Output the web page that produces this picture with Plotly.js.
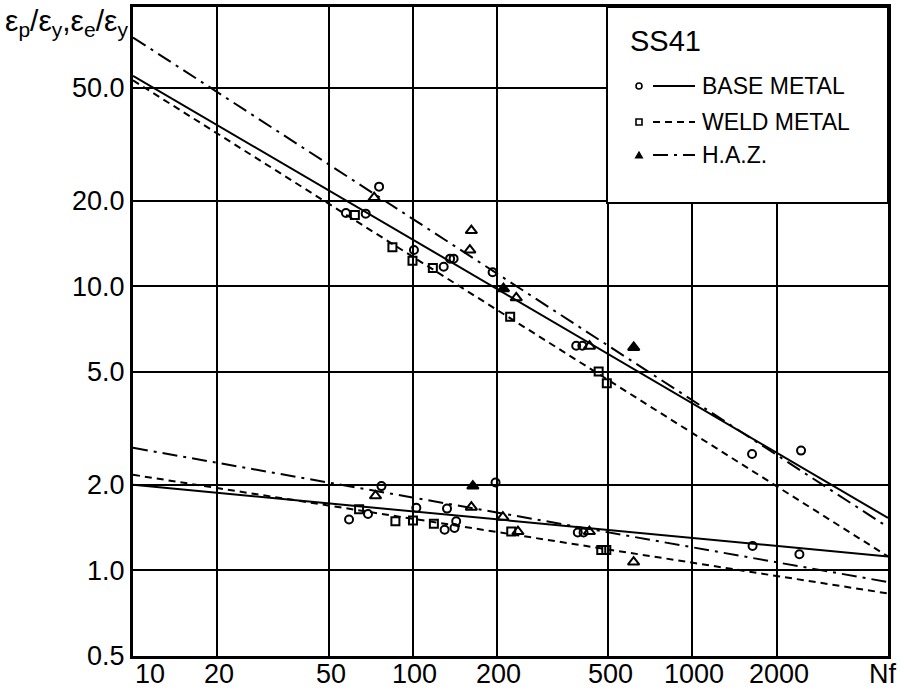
<!DOCTYPE html>
<html><head><meta charset="utf-8">
<script src="https://cdn.plot.ly/plotly-3.0.1.min.js"></script>
<style>html,body{margin:0;padding:0;background:#fff}#chart{width:901px;height:699px}</style>
</head><body><div id="chart"></div>
<script>
// ---- Data (Nf vs strain ratio) ----
// Fitted lines (values at Nf = 10 and Nf = 5000)
const fitN = [10, 5000];
const baseUpperFit = [55, 1.53];
const weldUpperFit = [53, 1.12];
const hazUpperFit  = [75, 1.42];
const baseLowerFit = [2.0, 1.12];
const weldLowerFit = [2.17, 0.83];
const hazLowerFit  = [2.7, 0.91];

// BASE METAL (circles): plastic and elastic
const baseNp = [57.7, 67.9, 75.8, 101, 129, 136, 140, 193, 384, 404, 1633, 2444];
const baseP  = [18.1, 18.0, 22.4, 13.4, 11.7, 12.5, 12.5, 11.2, 6.17, 6.17, 2.57, 2.64];
const baseNe = [59.2, 69.2, 77.3, 103, 130, 132.6, 141, 143, 197.7, 389, 408, 1640, 2411];
const baseE  = [1.51, 1.58, 1.98, 1.66, 1.39, 1.65, 1.41, 1.49, 2.04, 1.36, 1.36, 1.22, 1.14];

// WELD METAL (squares)
const weldNp = [62.1, 84.6, 99.8, 118, 223, 462, 494];
const weldP  = [17.8, 13.7, 12.3, 11.6, 7.8, 5.01, 4.56];
const weldNe = [64.3, 86.7, 100.2, 119, 225, 472, 492];
const weldE  = [1.64, 1.49, 1.50, 1.46, 1.37, 1.18, 1.18];

// H.A.Z. (open triangles)
const hazNp = [72.8, 162, 160, 234.5, 428.5];
const hazP  = [20.5, 15.7, 13.4, 9.1, 6.15];
const hazNe = [73.6, 162, 210, 237.7, 428, 616];
const hazE  = [1.83, 1.67, 1.54, 1.37, 1.37, 1.07];
// H.A.Z. (filled triangles)
const hazFilledN = [211, 616.5, 164];
const hazFilledV = [9.8, 6.09, 1.98];

// Axis ticks
const xTickVals = [10, 20, 50, 100, 200, 500, 1000, 2000];
const xTickText = ['10', '20', '50', '100', '200', '500', '1000', '2000'];
const yTickVals = [0.5, 1, 2, 5, 10, 20, 50];
const yTickText = ['0.5', '1.0', '2.0', '5.0', '10.0', '20.0', '50.0'];
const xAxisLabel = 'Nf';

// Legend texts
const legendTitle = 'SS41';
const legendNames = ['BASE METAL', 'WELD METAL', 'H.A.Z.'];

// ---- Styles ----
const K = '#000';
const solid = {color: K, width: 2};
const dashed = {color: K, width: 2, dash: '7px,5px'};
const dashdot = {color: K, width: 2, dash: '15px,6px,3px,6px'};
const FONT = '"Liberation Sans", Arial, sans-serif';

function line(y, st) { return {x: fitN, y: y, mode: 'lines', line: st, hoverinfo: 'skip', showlegend: false}; }
function pts(x, y, sym, size) {
  return {x: x, y: y, mode: 'markers', showlegend: false,
    marker: {symbol: sym, size: size, color: K, line: {color: K, width: 2}}};
}

const traces = [
  line(baseUpperFit, solid), line(weldUpperFit, dashed), line(hazUpperFit, dashdot),
  line(baseLowerFit, solid), line(weldLowerFit, dashed), line(hazLowerFit, dashdot),
  pts(baseNp, baseP, 'circle-open', 8), pts(baseNe, baseE, 'circle-open', 8),
  pts(weldNp, weldP, 'square-open', 8), pts(weldNe, weldE, 'square-open', 8),
  pts(hazNp, hazP, 'triangle-up-open', 10), pts(hazNe, hazE, 'triangle-up-open', 10),
  pts(hazFilledN, hazFilledV, 'triangle-up', 10)
];

// plot area geometry (pixels) used for legend placement
const L = 133, R = 888, T = 7, B = 656;
const px = v => (v - L) / (R - L);
const py = v => (B - v) / (B - T);

const shapes = [
  {type: 'rect', xref: 'paper', yref: 'paper', x0: px(607), x1: 1, y0: py(203), y1: 1,
   fillcolor: '#fff', line: {color: K, width: 2}, layer: 'above'}
];
const rows = [86, 122, 155];
const styles = [solid, dashed, dashdot];
rows.forEach((r, i) => {
  shapes.push({type: 'line', xref: 'paper', yref: 'paper', x0: px(653), x1: px(695), y0: py(r), y1: py(r),
    line: styles[i], layer: 'above'});
});
shapes.push({type: 'circle', xref: 'paper', yref: 'paper', x0: px(636), x1: px(642), y0: py(89), y1: py(83),
  line: {color: K, width: 1.6}, fillcolor: '#fff', layer: 'above'});
shapes.push({type: 'rect', xref: 'paper', yref: 'paper', x0: px(636), x1: px(642), y0: py(125), y1: py(119),
  line: {color: K, width: 1.6}, fillcolor: '#fff', layer: 'above'});
shapes.push({type: 'path', xref: 'paper', yref: 'paper',
  path: `M ${px(635.5)} ${py(158)} L ${px(642.5)} ${py(158)} L ${px(639)} ${py(152)} Z`,
  line: {color: K, width: 1.2}, fillcolor: K, layer: 'above'});

const annotations = [
  {xref: 'paper', yref: 'paper', x: px(628), y: py(41), xanchor: 'left', yanchor: 'middle',
   text: legendTitle, showarrow: false, font: {family: FONT, size: 29, color: K}},
  {xref: 'paper', yref: 'paper', x: px(3), y: py(2), xanchor: 'left', yanchor: 'top',
   text: 'ε<sub>p</sub>/ε<sub>y</sub>,ε<sub>e</sub>/ε<sub>y</sub>', showarrow: false,
   font: {family: FONT, size: 30, color: K}},
  {xref: 'paper', yref: 'paper', x: px(882), y: py(657), xanchor: 'center', yanchor: 'top',
   text: xAxisLabel, showarrow: false, font: {family: FONT, size: 27, color: K}}
];
rows.forEach((r, i) => {
  annotations.push({xref: 'paper', yref: 'paper', x: px(700), y: py(r), xanchor: 'left', yanchor: 'middle',
    text: legendNames[i], showarrow: false, font: {family: FONT, size: 23, color: K}});
});
// x tick labels placed on the log axis scale
xTickVals.forEach((v, i) => {
  annotations.push({xref: 'x', yref: 'paper', x: Math.log10(v), y: py(657), yanchor: 'top',
    xanchor: i === 0 ? 'left' : 'center', xshift: i === 0 ? 0 : 2,
    text: xTickText[i], showarrow: false, font: {family: FONT, size: 27, color: K}});
});

const layout = {
  width: 901, height: 699,
  margin: {l: L, r: 901 - R, t: T, b: 699 - B, autoexpand: false},
  paper_bgcolor: '#fff', plot_bgcolor: '#fff',
  showlegend: false,
  xaxis: {type: 'log', range: [1, Math.log10(5000)], tickmode: 'array', tickvals: xTickVals, showticklabels: false,
    showgrid: true, gridcolor: K, gridwidth: 2, showline: true, linecolor: K, linewidth: 3, mirror: true,
    ticks: '', zeroline: false},
  yaxis: {type: 'log', range: [Math.log10(0.5), Math.log10(96)], tickmode: 'array', tickvals: yTickVals, ticktext: yTickText,
    showgrid: true, gridcolor: K, gridwidth: 2, showline: true, linecolor: K, linewidth: 3, mirror: true,
    ticks: '', zeroline: false, tickfont: {family: FONT, size: 27, color: K}},
  shapes: shapes,
  annotations: annotations
};

Plotly.newPlot('chart', traces, layout, {staticPlot: true, displayModeBar: false});
</script>
</body></html>
